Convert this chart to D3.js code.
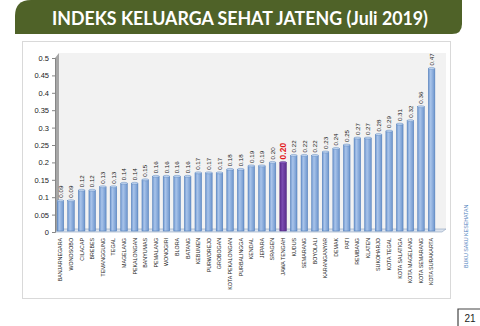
<!DOCTYPE html>
<html><head><meta charset="utf-8">
<script src="https://cdn.jsdelivr.net/npm/d3@7/dist/d3.min.js"></script>
<style>html,body{margin:0;padding:0;background:#fff;}svg{display:block;}</style>
</head><body><svg id="c" width="480" height="326"></svg>
<script>
const titleText = "INDEKS KELUARGA SEHAT JATENG (Juli 2019)";
const categories = ["BANJARNEGARA","WONOSOBO","CILACAP","BREBES","TEMANGGUNG","TEGAL","MAGELANG","PEKALONGAN","BANYUMAS","PEMALANG","WONOGIRI","BLORA","BATANG","KEBUMEN","PURWOREJO","GROBOGAN","KOTA PEKALONGAN","PURBALINGGA","KENDAL","JEPARA","SRAGEN","JAWA TENGAH","KUDUS","SEMARANG","BOYOLALI","KARANGANYAR","DEMAK","PATI","REMBANG","KLATEN","SUKOHARJO","KOTA TEGAL","KOTA SALATIGA","KOTA MAGELANG","KOTA SEMARANG","KOTA SURAKARTA"];
const values = [0.09,0.09,0.12,0.12,0.13,0.13,0.14,0.14,0.15,0.16,0.16,0.16,0.16,0.17,0.17,0.17,0.18,0.18,0.19,0.19,0.20,0.20,0.22,0.22,0.22,0.23,0.24,0.25,0.27,0.27,0.28,0.29,0.31,0.32,0.36,0.47];
const highlight = "JAWA TENGAH";
const yTicks = [0,0.05,0.1,0.15,0.2,0.25,0.3,0.35,0.4,0.45,0.5];
const sideText = "BUKU SAKU KESEHATAN";
const pageNum = "21";

const svg = d3.select("#c");
const defs = svg.append("defs");
const g1 = defs.append("linearGradient").attr("id","bar").attr("x1","0").attr("x2","1");
g1.append("stop").attr("offset","0").attr("stop-color","#6f97cf");
g1.append("stop").attr("offset","0.35").attr("stop-color","#a9c4ea");
g1.append("stop").attr("offset","1").attr("stop-color","#6d95cd");
const g2 = defs.append("linearGradient").attr("id","barH").attr("x1","0").attr("x2","1");
g2.append("stop").attr("offset","0").attr("stop-color","#5a2c8c");
g2.append("stop").attr("offset","0.4").attr("stop-color","#7a4bb0");
g2.append("stop").attr("offset","1").attr("stop-color","#5a2c8c");

// title banner
svg.append("path")
  .attr("d","M15,34 L15,16 Q15,0 31,0 L462,0 L462,24 Q462,34 452,34 Z")
  .attr("fill","#4f6228");
svg.append("text").attr("x",240).attr("y",24.5).attr("text-anchor","middle")
  .attr("font-family","Lato, 'Open Sans', sans-serif").attr("font-weight","bold")
  .attr("font-size",18).attr("fill","#fff")
  .attr("textLength",376).attr("lengthAdjust","spacingAndGlyphs")
  .text(titleText);

// outer chart frame
svg.append("rect").attr("x",22.5).attr("y",41.5).attr("width",428).attr("height",257)
  .attr("fill","#fff").attr("stroke","#d9d9d9");

const y = d3.scaleLinear().domain([0,0.5]).range([232,58]);
const x = d3.scaleBand().domain(categories).range([55,437]).paddingInner(0.38).paddingOuter(0.2);

// plot background (back wall)
svg.append("rect").attr("x",59).attr("y",y(0.5)-5).attr("width",387).attr("height",y(0)-y(0.5)+2)
  .attr("fill","#f2f2f2");
// side wall
svg.append("path").attr("d",`M55,${y(0.5)} L59,${y(0.5)-5} L59,${y(0)-3} L55,${y(0)} Z`)
  .attr("fill","#a6a6a6");
// floor
svg.append("path").attr("d",`M55,${y(0)} L59,${y(0)-3} L446,${y(0)-3} L442,${y(0)} Z`)
  .attr("fill","#dbe3ee").attr("stroke","#8fa3bd").attr("stroke-width",0.6);

// y axis
const ya = d3.axisLeft(y).tickValues(yTicks).tickSize(3).tickFormat(d=>String(+d.toFixed(2)));
const yg = svg.append("g").attr("transform","translate(55,0)").call(ya);
yg.select(".domain").attr("stroke","#868686");
yg.selectAll(".tick line").attr("stroke","#868686");
yg.selectAll(".tick text").attr("font-family","'Liberation Sans', Arial, sans-serif")
  .attr("font-size",7.5).attr("fill","#222").attr("x",-6);

// bars
const bars = svg.append("g");
categories.forEach((c,i)=>{
  const v = values[i];
  const bx = x(c), bw = x.bandwidth();
  const hi = c===highlight;
  bars.append("rect").attr("x",bx).attr("y",y(v)).attr("width",bw).attr("height",y(0)-y(v)-1)
    .attr("fill",hi?"url(#barH)":"url(#bar)").attr("stroke",hi?"#4b2378":"#4a78b5").attr("stroke-width",0.5);
  bars.append("ellipse").attr("cx",bx+bw/2).attr("cy",y(v)).attr("rx",bw/2).attr("ry",1)
    .attr("fill",hi?"#8a5cc0":"#c5d7f0").attr("stroke",hi?"#4b2378":"#4a78b5").attr("stroke-width",0.4);
  const lx = bx+bw/2+ (hi?3:2.2);
  bars.append("text").attr("transform",`translate(${lx},${y(v)-3}) rotate(-90)`)
    .attr("font-family","'Liberation Sans', Arial, sans-serif")
    .attr("font-size",hi?8.5:6.2).attr("font-weight",hi?"bold":"normal")
    .attr("fill",hi?"#e31a1c":"#222").text(v.toFixed(2));
});

// category labels
const xl = svg.append("g");
categories.forEach(c=>{
  xl.append("text").attr("transform",`translate(${x(c)+x.bandwidth()/2+1.9},${238}) rotate(-90)`)
    .attr("text-anchor","end").attr("font-family","'Liberation Sans', Arial, sans-serif")
    .attr("font-size",5.3).attr("fill","#222").text(c);
});

// side text & page number
svg.append("text").attr("transform","translate(468,268) rotate(-90)")
  .attr("font-family","'Liberation Sans', Arial, sans-serif").attr("font-size",5.3)
  .attr("fill","#4f81bd").text(sideText);
svg.append("path").attr("d","M458,326 L458,309 L480,309").attr("fill","none").attr("stroke","#444").attr("stroke-width",1.2);
svg.append("text").attr("x",470).attr("y",322).attr("text-anchor","middle")
  .attr("font-family","'Liberation Sans', Arial, sans-serif").attr("font-size",10).attr("fill","#222").text(pageNum);
</script></body></html>
